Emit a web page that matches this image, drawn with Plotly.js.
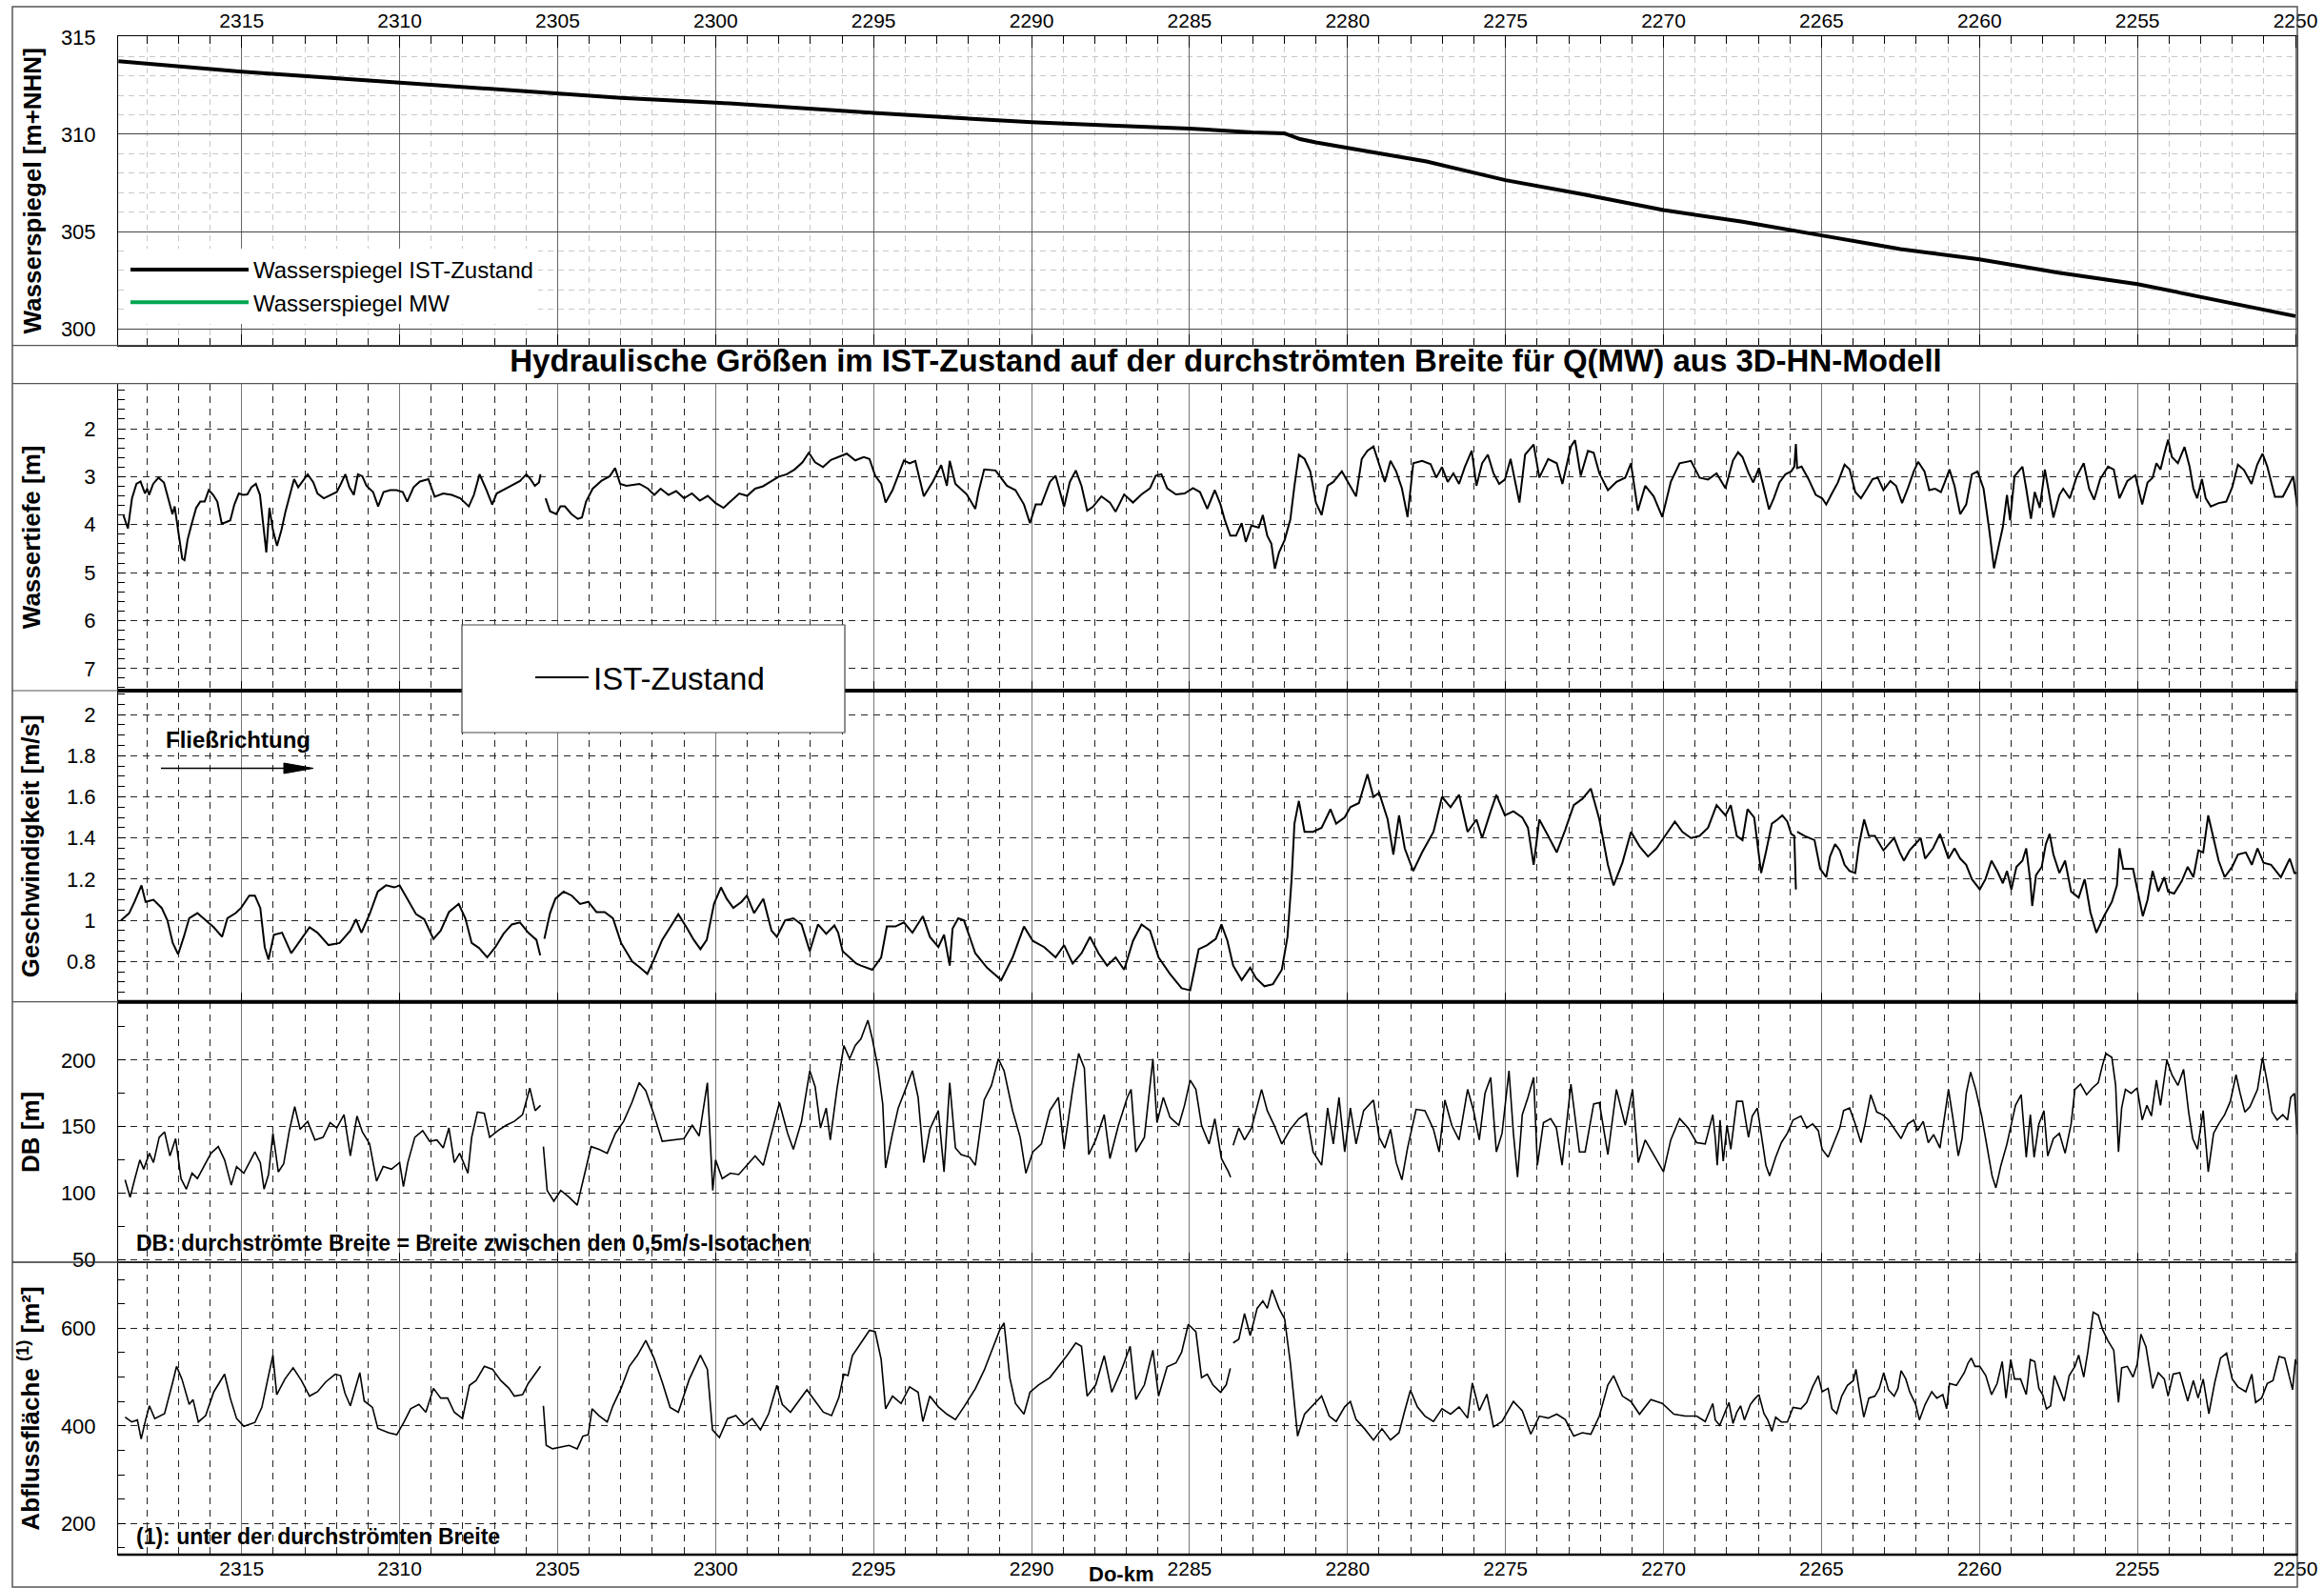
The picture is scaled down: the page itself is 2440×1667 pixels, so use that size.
<!DOCTYPE html>
<html>
<head>
<meta charset="utf-8">
<script src="https://cdn.plot.ly/plotly-3.0.1.min.js"></script>
<style>html,body{margin:0;padding:0;background:#fff}#chart{width:2440px;height:1667px}</style>
</head>
<body>
<div id="chart"></div>
<script>
// ---------------- DATA ----------------
const kmTickLabels = [2315, 2310, 2305, 2300, 2295, 2290, 2285, 2280, 2275, 2270, 2265, 2260, 2255, 2250];

// Wasserspiegel IST-Zustand [m+NHN]
const wspKm  = [2318.9,2317,2315,2312.5,2310,2307.5,2305,2303,2300,2297.5,2295,2292.5,2290,2287.5,2285,2283,2282,2281.5,2281,2280,2277.5,2275,2272.5,2270,2267.5,2265,2262.5,2260,2257.5,2255,2252.5,2250];
const wspIst = [313.76,313.5,313.22,312.93,312.65,312.41,312.13,311.87,311.63,311.35,311.1,310.85,310.62,310.45,310.29,310.1,310.05,309.75,309.58,309.3,308.6,307.64,306.9,306.1,305.5,304.8,304.1,303.57,302.88,302.3,301.5,300.65];

// Wassertiefe [m]
const wtKm = [
2318.74,2318.60,2318.47,2318.33,2318.20,2318.06,2317.99,2317.93,2317.80,2317.63,
2317.46,2317.32,2317.19,2317.12,2316.98,2316.88,2316.81,2316.71,2316.58,2316.44,
2316.31,2316.17,2316.04,2315.90,2315.77,2315.63,2315.50,2315.36,2315.23,2315.09,
2314.96,2314.82,2314.69,2314.55,2314.42,2314.31,2314.22,2314.12,2314.01,2313.88,
2313.74,2313.61,2313.47,2313.34,2313.21,2313.07,2312.91,2312.73,2312.60,2312.40,
2312.19,2311.99,2311.86,2311.72,2311.59,2311.45,2311.32,2311.18,2311.05,2310.84,
2310.68,2310.51,2310.30,2310.10,2309.90,2309.76,2309.56,2309.36,2309.09,2308.89,
2308.62,2308.35,2308.08,2307.81,2307.65,2307.47,2307.27,2307.07,2306.93,2306.73,
2306.46,2306.19,2305.99,2305.86,2305.72,2305.59,2305.54,2305.46,2305.38,2305.24,
2305.04,2304.91,2304.77,2304.56,2304.36,2304.23,2304.10,2303.89,2303.62,2303.35,
2303.18,2303.02,2302.82,2302.41,2302.14,2301.94,2301.74,2301.49,2301.25,2301.00,
2300.75,2300.50,2300.25,2300.00,2299.75,2299.50,2299.25,2299.00,2298.75,2298.50,
2298.25,2298.00,2297.75,2297.50,2297.25,2297.05,2296.85,2296.60,2296.35,2296.12,
2295.85,2295.58,2295.31,2295.13,2294.95,2294.76,2294.62,2294.40,2294.22,2294.04,
2293.86,2293.68,2293.41,2293.13,2292.86,2292.68,2292.59,2292.41,2292.05,2291.78,
2291.68,2291.50,2291.14,2290.78,2290.51,2290.24,2290.05,2289.87,2289.69,2289.42,
2289.24,2288.97,2288.79,2288.60,2288.42,2288.24,2288.06,2287.79,2287.52,2287.34,
2287.07,2286.79,2286.52,2286.25,2286.07,2285.89,2285.71,2285.43,2285.16,2284.89,
2284.67,2284.44,2284.20,2284.02,2283.89,2283.71,2283.53,2283.35,2283.22,2283.04,
2282.81,2282.68,2282.54,2282.41,2282.30,2282.17,2281.99,2281.81,2281.68,2281.54,
2281.36,2281.18,2281.00,2280.82,2280.63,2280.45,2280.18,2279.91,2279.73,2279.55,
2279.37,2279.18,2279.00,2278.82,2278.64,2278.46,2278.28,2278.10,2277.92,2277.64,
2277.37,2277.19,2277.01,2276.83,2276.65,2276.47,2276.29,2276.07,2275.92,2275.74,
2275.56,2275.38,2275.20,2275.02,2274.84,2274.56,2274.38,2274.11,2273.93,2273.65,
2273.38,2273.20,2272.93,2272.80,2272.62,2272.39,2272.21,2272.03,2271.76,2271.49,
2271.21,2271.03,2270.81,2270.58,2270.31,2270.04,2269.77,2269.49,2269.13,2268.86,
2268.59,2268.32,2268.04,2267.80,2267.64,2267.50,2267.31,2267.16,2266.98,2266.82,
2266.66,2266.51,2266.33,2266.14,2265.96,2265.86,2265.81,2265.77,2265.63,2265.41,
2265.18,2264.98,2264.85,2264.67,2264.48,2264.27,2264.11,2263.93,2263.75,2263.56,
2263.38,2263.22,2263.04,2262.82,2262.64,2262.45,2262.27,2262.08,2261.94,2261.74,
2261.59,2261.41,2261.22,2261.10,2260.95,2260.79,2260.61,2260.42,2260.24,2260.06,
2259.87,2259.69,2259.54,2259.38,2259.26,2259.13,2259.03,2258.89,2258.64,2258.52,
2258.37,2258.25,2258.09,2257.93,2257.78,2257.66,2257.47,2257.35,2257.14,2256.92,
2256.70,2256.53,2256.37,2256.18,2255.93,2255.75,2255.57,2255.32,2255.07,2254.85,
2254.68,2254.52,2254.40,2254.27,2254.15,2254.03,2253.91,2253.72,2253.51,2253.35,
2253.23,2253.11,2252.96,2252.84,2252.68,2252.43,2252.19,2252.00,2251.82,2251.63,
2251.39,2251.21,2251.04,2250.89,2250.65,2250.40,2250.22,2250.07,2249.94];
const wtVal = [
3.81,4.08,3.45,3.15,3.10,3.35,3.25,3.38,3.15,3.02,
3.12,3.45,3.78,3.62,4.31,4.71,4.74,4.31,3.98,3.65,
3.52,3.52,3.28,3.38,3.52,3.98,3.95,3.91,3.58,3.35,
3.38,3.37,3.22,3.15,3.38,4.05,4.58,3.65,4.11,4.44,
4.11,3.72,3.38,3.05,3.22,3.09,2.95,3.12,3.35,3.45,
3.38,3.32,3.15,2.95,3.22,3.38,2.95,2.99,3.19,3.32,
3.62,3.32,3.28,3.28,3.32,3.52,3.22,3.10,3.05,3.42,
3.35,3.38,3.45,3.62,3.38,2.95,3.25,3.58,3.35,3.28,
3.19,3.09,2.95,3.05,3.19,3.12,2.95,null,3.45,3.72,
3.78,3.62,3.62,3.78,3.88,3.85,3.52,3.25,3.09,2.99,
2.82,3.15,3.19,3.15,3.25,3.38,3.25,3.38,3.30,3.45,
3.35,3.50,3.40,3.55,3.65,3.50,3.35,3.40,3.25,3.20,
3.10,3.00,2.95,2.85,2.70,2.50,2.70,2.80,2.65,2.59,
2.52,2.66,2.59,2.63,2.98,3.15,3.54,3.28,2.98,2.66,
2.72,2.67,3.41,3.11,2.76,3.19,2.67,3.15,3.37,3.67,
3.32,2.85,2.87,3.19,3.28,3.58,3.97,3.58,3.58,3.11,
2.98,3.63,3.11,2.87,3.19,3.71,3.63,3.41,3.54,3.73,
3.37,3.54,3.37,3.24,2.98,2.95,3.24,3.37,3.35,3.24,
3.32,3.67,3.28,3.58,3.89,4.23,4.23,3.97,4.36,4.02,
4.06,3.80,4.23,4.40,4.92,4.58,4.32,3.89,3.19,2.54,
2.63,2.89,3.54,3.80,3.19,3.11,2.89,3.19,3.41,2.63,
2.46,2.37,2.72,3.11,2.67,2.89,3.24,3.84,2.72,2.67,
2.74,3.02,2.80,3.11,2.93,3.15,2.80,2.46,3.19,2.72,
2.54,2.93,3.15,3.06,2.63,3.54,2.54,2.33,3.02,2.63,
2.72,3.15,2.37,2.24,2.98,2.46,2.50,2.93,3.28,3.11,
3.02,2.72,3.71,3.19,3.41,3.84,3.11,2.72,2.67,3.02,
3.06,2.93,3.24,2.66,2.49,2.59,2.92,3.12,2.82,3.25,
3.68,3.45,3.12,2.95,2.89,2.79,2.32,2.82,2.79,3.05,
3.38,3.45,3.58,3.35,3.12,2.75,2.85,3.32,3.45,3.25,
3.05,3.02,3.28,3.09,3.19,3.55,3.25,2.89,2.69,2.89,
3.28,3.25,3.32,3.12,2.85,3.19,3.78,3.58,2.95,2.89,
3.25,4.11,4.91,4.41,4.05,3.38,3.91,2.99,2.79,3.25,
3.88,3.32,3.65,2.85,3.38,3.85,3.38,3.25,3.45,2.99,
2.72,3.25,3.48,3.05,2.79,2.85,3.45,3.09,2.97,3.58,
3.12,3.02,2.72,2.85,2.52,2.23,2.59,2.72,2.38,2.79,
3.25,3.45,3.05,3.45,3.62,3.55,3.52,3.22,2.75,2.86,
3.15,2.75,2.52,2.79,3.42,3.42,3.19,2.99,3.62];

// Geschwindigkeit [m/s]
const vKm = [
2318.82,2318.56,2318.39,2318.17,2318.04,2317.79,2317.53,2317.35,2317.18,2317.01,
2316.83,2316.66,2316.40,2316.14,2315.88,2315.62,2315.45,2315.19,2315.02,2314.76,
2314.58,2314.41,2314.27,2314.15,2313.98,2313.72,2313.43,2313.20,2312.85,2312.60,
2312.25,2311.90,2311.56,2311.38,2311.21,2310.95,2310.69,2310.43,2310.17,2310.00,
2309.74,2309.48,2309.22,2308.93,2308.70,2308.44,2308.13,2307.92,2307.72,2307.49,
2307.23,2306.97,2306.71,2306.45,2306.19,2305.93,2305.67,2305.55,2305.48,2305.42,
2305.24,2305.07,2304.81,2304.55,2304.29,2304.03,2303.77,2303.51,2303.25,2302.99,
2302.64,2302.39,2302.16,2301.95,2301.69,2301.44,2301.18,2300.92,2300.69,2300.48,
2300.28,2300.05,2299.83,2299.65,2299.44,2299.18,2299.01,2298.78,2298.49,2298.23,
2298.06,2297.80,2297.54,2297.28,2297.02,2296.76,2296.50,2296.24,2296.12,2295.98,
2295.76,2295.55,2295.40,2295.04,2294.76,2294.58,2294.31,2294.04,2293.77,2293.44,
2293.22,2292.95,2292.77,2292.59,2292.50,2292.32,2292.14,2291.78,2291.41,2290.96,
2290.60,2290.24,2289.96,2289.60,2289.24,2288.97,2288.70,2288.42,2288.15,2287.88,
2287.61,2287.34,2287.07,2286.79,2286.52,2286.25,2285.98,2285.62,2285.25,2284.98,
2284.71,2284.44,2284.17,2283.99,2283.80,2283.62,2283.35,2283.08,2282.90,2282.63,
2282.36,2282.08,2281.90,2281.77,2281.68,2281.54,2281.36,2281.09,2280.82,2280.54,
2280.36,2280.09,2279.91,2279.64,2279.37,2279.18,2279.00,2278.73,2278.55,2278.37,
2278.19,2277.92,2277.64,2277.28,2277.01,2276.74,2276.47,2276.20,2275.92,2275.74,
2275.47,2275.29,2275.02,2274.75,2274.47,2274.29,2274.11,2273.93,2273.65,2273.38,
2273.11,2272.84,2272.57,2272.30,2272.03,2271.76,2271.58,2271.30,2271.03,2270.76,
2270.49,2270.22,2269.95,2269.64,2269.40,2269.13,2268.86,2268.59,2268.32,2268.04,
2267.87,2267.68,2267.50,2267.34,2267.13,2267.00,2266.91,2266.76,2266.57,2266.39,
2266.24,2266.08,2265.96,2265.86,2265.81,2265.79,2265.77,2265.53,2265.22,2265.04,
2264.85,2264.73,2264.57,2264.42,2264.27,2264.11,2263.93,2263.81,2263.65,2263.50,
2263.31,2263.04,2262.70,2262.52,2262.39,2262.21,2261.86,2261.72,2261.47,2261.25,
2260.98,2260.79,2260.61,2260.42,2260.24,2259.99,2259.81,2259.62,2259.44,2259.26,
2259.13,2258.99,2258.83,2258.64,2258.52,2258.39,2258.33,2258.21,2258.03,2257.90,
2257.78,2257.66,2257.47,2257.29,2257.10,2256.86,2256.67,2256.49,2256.30,2256.06,
2255.81,2255.65,2255.57,2255.45,2255.14,2254.95,2254.83,2254.68,2254.52,2254.34,
2254.15,2254.03,2253.84,2253.60,2253.41,2253.23,2253.07,2252.92,2252.76,2252.61,
2252.43,2252.24,2252.00,2251.82,2251.57,2251.38,2251.20,2251.01,2250.77,2250.46,
2250.18,2250.03,2249.94];
const vVal = [
1.00,1.035,1.09,1.17,1.09,1.10,1.06,1.00,0.89,0.835,
0.92,1.01,1.035,1.00,0.966,0.92,1.01,1.035,1.06,1.12,
1.12,1.06,0.87,0.81,0.93,0.94,0.84,0.89,0.966,0.94,
0.88,0.89,0.95,1.005,0.94,1.03,1.14,1.17,1.16,1.17,
1.10,1.03,1.005,0.91,0.95,1.04,1.08,1.01,0.89,0.866,
0.82,0.87,0.935,0.98,0.99,0.94,0.905,0.83,null,0.91,
1.035,1.105,1.14,1.12,1.08,1.09,1.04,1.04,1.01,0.89,
0.80,0.77,0.74,0.81,0.905,0.966,1.03,0.966,0.905,0.86,
0.905,1.08,1.16,1.105,1.06,1.09,1.12,1.035,1.105,0.95,
0.92,1.00,1.01,0.98,0.85,0.98,0.935,0.975,0.94,0.85,
0.82,0.79,0.78,0.76,0.82,0.97,0.97,0.99,0.94,1.02,
0.92,0.87,0.93,0.78,0.96,1.01,1.00,0.84,0.77,0.71,
0.82,0.97,0.90,0.87,0.82,0.88,0.79,0.84,0.92,0.84,
0.78,0.82,0.76,0.90,0.98,0.95,0.82,0.74,0.67,0.66,
0.86,0.88,0.91,0.98,0.90,0.78,0.71,0.77,0.72,0.68,
0.69,0.76,0.92,1.20,1.47,1.58,1.43,1.43,1.45,1.54,
1.47,1.50,1.55,1.57,1.71,1.60,1.62,1.49,1.32,1.51,
1.35,1.24,1.33,1.43,1.60,1.55,1.61,1.43,1.49,1.40,
1.53,1.61,1.51,1.53,1.50,1.45,1.27,1.49,1.41,1.33,
1.44,1.56,1.59,1.64,1.49,1.27,1.17,1.28,1.43,1.36,
1.31,1.35,1.41,1.48,1.43,1.40,1.41,1.45,1.56,1.51,
1.56,1.41,1.39,1.54,1.50,1.33,1.23,1.33,1.47,1.49,
1.51,1.48,1.42,1.41,1.15,null,1.43,1.41,1.39,1.25,
1.21,1.31,1.37,1.34,1.27,1.24,1.23,1.37,1.49,1.41,
1.41,1.34,1.40,1.33,1.29,1.34,1.40,1.30,1.35,1.42,
1.30,1.35,1.30,1.27,1.20,1.15,1.20,1.29,1.24,1.18,
1.24,1.15,1.26,1.29,1.35,1.19,1.07,1.22,1.26,1.37,
1.42,1.32,1.23,1.29,1.14,1.11,1.20,1.04,0.94,1.02,
1.09,1.17,1.35,1.25,1.25,1.10,1.02,1.10,1.24,1.14,
1.21,1.14,1.13,1.19,1.26,1.21,1.34,1.33,1.51,1.41,
1.29,1.21,1.26,1.32,1.33,1.27,1.35,1.28,1.27,1.21,
1.30,1.23,1.23];

// DB: durchstroemte Breite [m]
const dbKm = [
2318.69,2318.53,2318.39,2318.22,2318.10,2317.92,2317.79,2317.61,2317.44,2317.27,
2317.09,2316.92,2316.75,2316.57,2316.40,2316.14,2315.97,2315.74,2315.54,2315.33,
2315.16,2314.93,2314.58,2314.41,2314.29,2314.15,2314.01,2313.84,2313.67,2313.49,
2313.32,2313.15,2312.91,2312.68,2312.42,2312.20,2311.99,2311.76,2311.56,2311.35,
2311.18,2310.95,2310.73,2310.52,2310.26,2310.00,2309.88,2309.74,2309.52,2309.27,
2309.05,2308.82,2308.62,2308.44,2308.27,2308.10,2307.84,2307.72,2307.54,2307.32,
2307.15,2306.89,2306.63,2306.37,2306.11,2305.88,2305.71,2305.54,2305.50,2305.45,
2305.33,2305.12,2304.90,2304.64,2304.38,2304.15,2303.94,2303.69,2303.43,2303.17,
2302.91,2302.65,2302.42,2302.21,2301.95,2301.69,2301.35,2301.00,2300.74,2300.52,
2300.26,2300.09,2300.00,2299.79,2299.53,2299.27,2299.01,2298.75,2298.49,2298.23,
2297.98,2297.72,2297.54,2297.28,2297.02,2296.85,2296.68,2296.50,2296.37,2296.16,
2295.94,2295.76,2295.58,2295.40,2295.18,2295.04,2294.86,2294.71,2294.62,2294.40,
2294.22,2294.04,2293.77,2293.59,2293.41,2293.22,2292.95,2292.77,2292.59,2292.41,
2292.23,2291.96,2291.78,2291.50,2291.27,2291.05,2290.87,2290.60,2290.36,2290.18,
2289.96,2289.69,2289.42,2289.15,2288.97,2288.70,2288.51,2288.33,2288.19,2287.97,
2287.70,2287.52,2287.25,2286.97,2286.85,2286.70,2286.43,2286.16,2286.03,2285.83,
2285.62,2285.34,2285.16,2284.98,2284.80,2284.62,2284.38,2284.20,2283.99,2283.77,
2283.70,2283.66,2283.62,2283.44,2283.26,2283.04,2282.72,2282.54,2282.32,2282.08,
2281.81,2281.54,2281.30,2281.09,2280.82,2280.63,2280.45,2280.27,2280.09,2279.91,
2279.73,2279.49,2279.18,2279.00,2278.82,2278.64,2278.46,2278.28,2278.10,2277.83,
2277.55,2277.28,2277.10,2276.92,2276.70,2276.47,2276.20,2276.01,2275.83,2275.65,
2275.47,2275.29,2275.11,2274.89,2274.75,2274.62,2274.47,2274.29,2274.11,2273.99,
2273.80,2273.57,2273.39,2273.21,2272.93,2272.66,2272.48,2272.21,2272.03,2271.76,
2271.49,2271.21,2270.98,2270.80,2270.58,2270.31,2270.00,2269.77,2269.49,2269.22,
2268.95,2268.68,2268.44,2268.36,2268.30,2268.21,2268.11,2267.99,2267.87,2267.68,
2267.50,2267.31,2267.19,2267.03,2266.88,2266.76,2266.64,2266.45,2266.27,2266.08,
2265.90,2265.65,2265.47,2265.28,2265.10,2264.98,2264.79,2264.61,2264.42,2264.30,
2264.11,2263.93,2263.75,2263.62,2263.44,2263.25,2263.07,2262.88,2262.70,2262.48,
2262.27,2262.08,2261.96,2261.78,2261.62,2261.45,2261.25,2261.10,2260.98,2260.85,
2260.67,2260.55,2260.42,2260.28,2260.12,2259.93,2259.75,2259.60,2259.48,2259.32,
2259.13,2259.01,2258.86,2258.68,2258.52,2258.39,2258.27,2258.12,2257.96,2257.84,
2257.66,2257.47,2257.29,2257.10,2256.98,2256.80,2256.61,2256.43,2256.24,2256.12,
2256.00,2255.81,2255.69,2255.60,2255.50,2255.38,2255.20,2255.01,2254.85,2254.70,
2254.56,2254.40,2254.27,2254.07,2253.91,2253.72,2253.54,2253.38,2253.25,2253.10,
2252.92,2252.76,2252.59,2252.43,2252.24,2252.06,2251.88,2251.75,2251.60,2251.44,
2251.20,2251.04,2250.89,2250.74,2250.58,2250.40,2250.25,2250.15,2250.03,2249.94];
const dbVal = [
110,97,110,125,118,130,123,142,146,128,
141,111,103,115,111,122,130,135,125,106,
120,115,131,123,103,114,145,116,122,147,
165,148,154,140,142,153,149,159,128,158,
146,137,109,120,118,123,105,123,142,147,
139,140,134,149,123,130,115,142,161,160,
142,147,151,154,159,179,162,166,null,135,
102,94,102,97,91,114,135,133,130,145,
154,168,183,177,159,139,140,141,151,143,
183,102,125,111,115,114,121,128,121,145,
168,145,133,154,192,180,149,164,140,178,
211,201,211,216,230,216,194,167,119,145,
164,175,192,172,123,148,162,116,183,134,
129,127,121,170,181,201,192,162,142,115,
131,137,162,172,133,178,205,194,129,140,
159,126,151,172,178,131,142,201,153,172,
157,151,166,185,178,151,137,156,126,116,
112,null,136,149,140,149,178,162,151,137,
148,156,160,131,121,164,137,172,131,164,
137,162,170,142,134,148,123,110,134,163,
162,148,131,170,151,140,178,162,140,175,
187,131,145,192,145,112,159,172,187,121,
153,156,149,121,182,131,131,167,168,129,
178,151,178,123,140,129,116,140,156,149,
138,137,159,141,121,155,124,151,133,169,
169,142,158,164,141,121,113,127,138,145,
155,158,149,152,147,133,127,138,149,162,
164,152,138,152,174,161,159,155,149,141,
152,155,147,154,138,144,134,158,178,158,
128,141,175,191,178,158,133,113,104,121,
137,149,166,174,127,159,127,152,162,128,
141,145,130,152,178,182,174,179,183,195,
205,202,181,131,164,178,175,179,155,166,
158,185,166,200,189,181,193,161,141,133,
162,116,145,152,159,169,189,175,161,165,
178,202,183,161,155,159,155,172,175,144];

// Abflussflaeche unter der durchstroemten Breite [m2]
const afKm = [
2318.69,2318.48,2318.30,2318.18,2318.04,2317.92,2317.75,2317.44,2317.18,2317.06,
2316.89,2316.66,2316.54,2316.37,2316.14,2315.88,2315.54,2315.36,2315.16,2314.93,
2314.58,2314.36,2314.15,2314.01,2313.89,2313.63,2313.37,2313.11,2312.85,2312.60,
2312.34,2312.04,2311.87,2311.73,2311.56,2311.26,2311.12,2310.86,2310.69,2310.35,
2310.09,2309.86,2309.65,2309.39,2309.17,2308.93,2308.70,2308.48,2308.27,2308.01,
2307.79,2307.58,2307.32,2307.06,2306.80,2306.54,2306.37,2306.11,2305.93,2305.76,
2305.54,2305.50,2305.45,2305.36,2305.16,2304.90,2304.64,2304.38,2304.20,2304.03,
2303.91,2303.69,2303.43,2303.25,2302.99,2302.73,2302.47,2302.21,2301.95,2301.69,
2301.44,2301.18,2300.83,2300.48,2300.26,2300.10,2299.88,2299.62,2299.36,2299.10,
2298.84,2298.58,2298.32,2298.06,2297.89,2297.63,2297.37,2297.11,2296.85,2296.59,
2296.33,2296.10,2295.94,2295.81,2295.67,2295.55,2295.40,2295.13,2294.95,2294.76,
2294.62,2294.40,2294.13,2293.86,2293.59,2293.44,2293.22,2292.95,2292.68,2292.41,
2292.14,2291.78,2291.50,2291.23,2291.01,2290.87,2290.69,2290.51,2290.24,2290.05,
2289.78,2289.42,2289.15,2288.88,2288.60,2288.42,2288.24,2287.97,2287.70,2287.46,
2287.16,2286.88,2286.70,2286.43,2286.16,2285.98,2285.71,2285.43,2285.25,2285.04,
2284.80,2284.62,2284.44,2284.26,2284.02,2283.84,2283.71,2283.66,2283.62,2283.44,
2283.26,2283.08,2282.86,2282.68,2282.54,2282.39,2282.17,2281.99,2281.81,2281.68,
2281.58,2281.36,2281.09,2280.82,2280.58,2280.36,2280.09,2279.91,2279.73,2279.46,
2279.18,2278.91,2278.64,2278.37,2278.19,2278.01,2277.79,2277.55,2277.28,2277.01,
2276.74,2276.47,2276.20,2276.05,2275.83,2275.59,2275.38,2275.11,2274.75,2274.47,
2274.20,2273.93,2273.65,2273.38,2273.11,2272.84,2272.57,2272.30,2272.03,2271.76,
2271.58,2271.30,2271.03,2270.76,2270.40,2270.04,2269.67,2269.31,2268.95,2268.68,
2268.44,2268.36,2268.22,2268.05,2267.93,2267.80,2267.68,2267.56,2267.44,2267.25,
2267.13,2266.98,2266.82,2266.70,2266.57,2266.45,2266.27,2266.08,2265.90,2265.65,
2265.47,2265.28,2265.10,2264.98,2264.79,2264.67,2264.52,2264.36,2264.18,2263.99,
2263.91,2263.81,2263.66,2263.50,2263.31,2263.17,2263.03,2262.88,2262.70,2262.58,
2262.48,2262.33,2262.21,2262.02,2261.90,2261.72,2261.51,2261.35,2261.16,2261.04,
2260.95,2260.73,2260.48,2260.36,2260.26,2260.14,2259.99,2259.80,2259.62,2259.44,
2259.28,2259.16,2259.01,2258.89,2258.70,2258.52,2258.39,2258.25,2258.12,2258.00,
2257.88,2257.75,2257.63,2257.47,2257.32,2257.16,2256.98,2256.86,2256.70,2256.57,
2256.40,2256.24,2256.10,2255.94,2255.75,2255.60,2255.50,2255.32,2255.14,2255.01,
2254.89,2254.73,2254.52,2254.34,2254.15,2254.03,2253.87,2253.66,2253.41,2253.23,
2253.08,2252.92,2252.74,2252.55,2252.37,2252.18,2252.00,2251.82,2251.57,2251.38,
2251.26,2251.07,2250.89,2250.71,2250.52,2250.34,2250.18,2250.09,2250.00,2249.94];
const afVal = [
418,408,412,373,412,441,415,425,490,522,
496,444,454,408,421,470,506,457,415,399,
407,438,503,545,464,496,519,493,461,470,
490,506,503,467,441,509,451,438,395,386,
382,408,435,444,428,477,457,457,428,415,
483,493,522,516,493,477,461,464,487,503,
522,null,441,360,353,356,360,353,379,382,
435,421,408,441,477,522,545,575,539,490,
438,428,496,545,516,392,376,415,421,402,
415,392,425,483,444,428,451,474,451,428,
421,458,506,503,544,555,570,596,593,536,
435,461,446,480,469,409,461,439,424,413,
439,476,514,559,596,611,499,446,424,469,
484,499,521,544,570,563,461,484,544,469,
514,563,454,484,555,461,521,529,551,608,
593,499,506,484,469,484,518,null,570,578,
630,585,641,656,641,679,641,619,529,446,
379,424,443,461,420,409,439,450,413,394,
371,394,371,386,431,473,439,420,409,435,
424,439,416,488,431,465,398,409,450,431,
383,420,416,424,413,379,386,383,420,484,
503,461,450,424,454,446,424,420,420,409,
446,412,401,428,448,405,428,441,412,444,
454,464,425,412,389,418,408,408,438,435,
448,480,503,470,477,435,425,461,483,493,
516,474,418,457,461,477,509,474,461,477,
513,496,470,444,412,444,470,457,464,435,
487,483,509,529,539,522,522,503,464,487,
532,457,536,496,496,464,536,532,477,464,
435,441,503,477,451,503,522,545,500,552,
633,627,597,575,555,448,519,522,500,526,
588,562,477,509,496,461,506,509,451,493,
457,496,425,490,539,549,496,480,470,506,
448,457,487,493,542,539,496,474,536,526];

// ---------------- LAYOUT HELPERS ----------------
const FONT = 'Liberation Sans, Arial, Helvetica, sans-serif';
const ML = 124, MT = 38, PW = 2288, PH = 1594;
const PX = p => (p - ML) / PW;            // pixel -> paper x
const PY = p => (MT + PH - p) / PH;       // pixel -> paper y
const xRange = [2318.91, 2249.94];

function xAx(extra) {
  return Object.assign({
    range: xRange, tickmode: 'array', tickvals: kmTickLabels, ticktext: kmTickLabels.map(String),
    showgrid: true, gridcolor: '#777', gridwidth: 1,
    minor: {dtick: 1, tick0: 2250, showgrid: true, gridcolor: '#222', griddash: '7px,6px', gridwidth: 1},
    showline: true, mirror: true, linecolor: '#000', linewidth: 1, zeroline: false,
    tickfont: {family: FONT, size: 21, color: '#000'}, fixedrange: true, automargin: false
  }, extra);
}
function yAx(extra) {
  return Object.assign({
    showgrid: true, gridcolor: '#222', griddash: '7px,6px', gridwidth: 1,
    showline: true, mirror: true, linecolor: '#000', linewidth: 1, zeroline: false,
    ticks: 'inside', ticklen: 8, tickcolor: '#000', ticklabelstandoff: 18,
    tickfont: {family: FONT, size: 22, color: '#000'}, fixedrange: true, automargin: false
  }, extra);
}
const ytitle = (t, s) => ({text: '<b>' + t + '</b>', font: {family: FONT, size: 26, color: '#000'}, standoff: s});

const traces = [
  {x: wspKm, y: wspIst, name: 'Wasserspiegel IST-Zustand', type: 'scatter', mode: 'lines',
   line: {color: '#000', width: 4}, xaxis: 'x', yaxis: 'y', legend: 'legend'},
  {x: [null], y: [null], name: 'Wasserspiegel MW', type: 'scatter', mode: 'lines',
   line: {color: '#00a651', width: 4}, xaxis: 'x', yaxis: 'y', legend: 'legend'},
  {x: wtKm, y: wtVal, name: 'IST-Zustand', type: 'scatter', mode: 'lines',
   line: {color: '#000', width: 2}, xaxis: 'x2', yaxis: 'y2', legend: 'legend2'},
  {x: vKm, y: vVal, name: 'IST-Zustand', type: 'scatter', mode: 'lines', showlegend: false,
   line: {color: '#000', width: 2}, xaxis: 'x3', yaxis: 'y3'},
  {x: dbKm, y: dbVal, name: 'IST-Zustand', type: 'scatter', mode: 'lines', showlegend: false,
   line: {color: '#000', width: 1.6}, xaxis: 'x4', yaxis: 'y4'},
  {x: afKm, y: afVal, name: 'IST-Zustand', type: 'scatter', mode: 'lines', showlegend: false,
   line: {color: '#000', width: 1.6}, xaxis: 'x5', yaxis: 'y5'}
];

const dP1 = [PY(362.7), 1], dP2 = [PY(725), PY(402.7)], dP3 = [PY(1051.7), PY(725)],
      dP4 = [PY(1325), PY(1051.7)], dP5 = [0, PY(1325)];

const layout = {
  width: 2440, height: 1667, autosize: false,
  margin: {l: ML, r: 2440 - ML - PW, t: MT, b: 1667 - MT - PH, pad: 0},
  paper_bgcolor: '#fff', plot_bgcolor: '#fff',
  font: {family: FONT, color: '#000'},
  hovermode: false, showlegend: true,
  title: {text: '<b>Hydraulische Größen im IST-Zustand auf der durchströmten Breite für Q(MW) aus 3D-HN-Modell</b>',
          font: {family: FONT, size: 33, color: '#000'}, xref: 'paper', yref: 'paper',
          x: PX(1287), y: PY(378), xanchor: 'center', yanchor: 'middle'},
  xaxis: xAx({anchor: 'y', side: 'top', ticks: 'inside', ticklen: 12, tickcolor: '#000', mirror: 'ticks',
              gridcolor: '#666',
              minor: {dtick: 1, tick0: 2250, showgrid: true, gridcolor: '#c8c8c8', griddash: '6px,5px',
                      ticks: 'inside', ticklen: 8, tickcolor: '#000'}}),
  yaxis: yAx({domain: dP1, anchor: 'x', range: [299.14, 315.04], tick0: 300, dtick: 5,
              gridcolor: '#444', griddash: 'solid', ticks: '',
              minor: {dtick: 1, showgrid: true, gridcolor: '#c8c8c8', griddash: '6px,5px'},
              title: ytitle('Wasserspiegel [m+NHN]', 12)}),
  xaxis2: xAx({anchor: 'y2', showticklabels: false, ticks: 'inside', ticklen: 10, tickcolor: '#000'}),
  yaxis2: yAx({domain: dP2, anchor: 'x2', range: [7.46, 1.06], tick0: 1, dtick: 1,
               minor: {dtick: 0.2, ticks: 'inside', ticklen: 7, tickcolor: '#000', showgrid: false},
               title: ytitle('Wassertiefe [m]', 38)}),
  xaxis3: xAx({anchor: 'y3', showticklabels: false, ticks: 'inside', ticklen: 10, tickcolor: '#000'}),
  yaxis3: yAx({domain: dP3, anchor: 'x3', range: [0.604, 2.116], tick0: 0, dtick: 0.2,
               minor: {dtick: 0.05, ticks: 'inside', ticklen: 7, tickcolor: '#000', showgrid: false},
               title: ytitle('Geschwindigkeit [m/s]', 20)}),
  xaxis4: xAx({anchor: 'y4', showticklabels: false, ticks: 'inside', ticklen: 10, tickcolor: '#000'}),
  yaxis4: yAx({domain: dP4, anchor: 'x4', range: [48.1, 243.8], tick0: 0, dtick: 50,
               minor: {dtick: 25, ticks: 'inside', ticklen: 7, tickcolor: '#000', showgrid: false},
               title: ytitle('DB [m]', 14)}),
  xaxis5: xAx({anchor: 'y5', side: 'bottom', ticks: '', showticklabels: true, ticklabelstandoff: -4}),
  yaxis5: yAx({domain: dP5, anchor: 'x5', range: [136, 735.5], tick0: 0, dtick: 200,
               minor: {dtick: 50, ticks: 'inside', ticklen: 7, tickcolor: '#000', showgrid: false},
               title: ytitle('Abflussfläche <sup>(1)</sup> [m²]', 14)}),
  legend: {x: PX(132), y: PY(261), xanchor: 'left', yanchor: 'top', bgcolor: '#fff', borderwidth: 0,
           font: {family: FONT, size: 24, color: '#000'}, itemwidth: 124, tracegroupgap: 0},
  legend2: {x: PX(557), y: PY(711), xanchor: 'left', yanchor: 'middle', bgcolor: 'rgba(0,0,0,0)', borderwidth: 0,
            font: {family: FONT, size: 33, color: '#000'}, itemwidth: 56},
  shapes: [
    // outer frame
    {type: 'rect', xref: 'paper', yref: 'paper', x0: PX(13), x1: PX(2412), y0: PY(1666), y1: PY(7),
     line: {color: '#555', width: 1.5}},
    // separators
    {type: 'line', xref: 'paper', yref: 'paper', x0: PX(13), x1: 1, y0: PY(362.7), y1: PY(362.7), line: {color: '#555', width: 1.2}},
    {type: 'line', xref: 'paper', yref: 'paper', x0: PX(13), x1: 1, y0: PY(402.7), y1: PY(402.7), line: {color: '#555', width: 1.2}},
    {type: 'line', xref: 'paper', yref: 'paper', x0: PX(13), x1: 0, y0: PY(725), y1: PY(725), line: {color: '#555', width: 1.2}},
    {type: 'line', xref: 'paper', yref: 'paper', x0: 0, x1: 1, y0: PY(725), y1: PY(725), line: {color: '#000', width: 4}, layer: 'above'},
    {type: 'line', xref: 'paper', yref: 'paper', x0: PX(13), x1: 0, y0: PY(1051.7), y1: PY(1051.7), line: {color: '#555', width: 1.2}},
    {type: 'line', xref: 'paper', yref: 'paper', x0: 0, x1: 1, y0: PY(1051.7), y1: PY(1051.7), line: {color: '#000', width: 4}, layer: 'above'},
    {type: 'line', xref: 'paper', yref: 'paper', x0: PX(13), x1: 1, y0: PY(1325), y1: PY(1325), line: {color: '#333', width: 1.5}},
    {type: 'line', xref: 'paper', yref: 'paper', x0: 0, x1: 1, y0: 0, y1: 0, line: {color: '#000', width: 2.5}, layer: 'above'},
    // legend box (IST-Zustand)
    {type: 'rect', xref: 'paper', yref: 'paper', x0: PX(485), x1: PX(887), y0: PY(769), y1: PY(656),
     fillcolor: '#fff', line: {color: '#444', width: 1.2}, layer: 'above'},
    // flow direction arrow
    {type: 'line', xref: 'paper', yref: 'paper', x0: PX(169), x1: PX(300), y0: PY(806.5), y1: PY(806.5),
     line: {color: '#000', width: 1.3}, layer: 'above'},
    {type: 'path', xref: 'paper', yref: 'paper',
     path: `M ${PX(298)},${PY(801)} L ${PX(329)},${PY(806.5)} L ${PX(298)},${PY(812)} Z`,
     fillcolor: '#000', line: {color: '#000', width: 1}, layer: 'above'}
  ],
  annotations: [
    {text: '<b>Fließrichtung</b>', xref: 'paper', yref: 'paper', x: PX(250), y: PY(776),
     xanchor: 'center', yanchor: 'middle', showarrow: false, font: {family: FONT, size: 24, color: '#000'}},
    {text: '<b>DB: durchströmte Breite = Breite zwischen den 0,5m/s-Isotachen</b>', xref: 'paper', yref: 'paper',
     x: PX(141), y: PY(1305), xanchor: 'left', yanchor: 'middle', showarrow: false,
     font: {family: FONT, size: 23, color: '#000'}},
    {text: '<b>(1): unter der durchströmten Breite</b>', xref: 'paper', yref: 'paper',
     x: PX(141), y: PY(1613), xanchor: 'left', yanchor: 'middle', showarrow: false,
     font: {family: FONT, size: 23, color: '#000'}},
    {text: '<b>Do-km</b>', xref: 'paper', yref: 'paper', x: PX(1177), y: PY(1652),
     xanchor: 'center', yanchor: 'middle', showarrow: false, font: {family: FONT, size: 22, color: '#000'}}
  ]
};

Plotly.newPlot('chart', traces, layout, {displayModeBar: false, staticPlot: true});
</script>
</body>
</html>
